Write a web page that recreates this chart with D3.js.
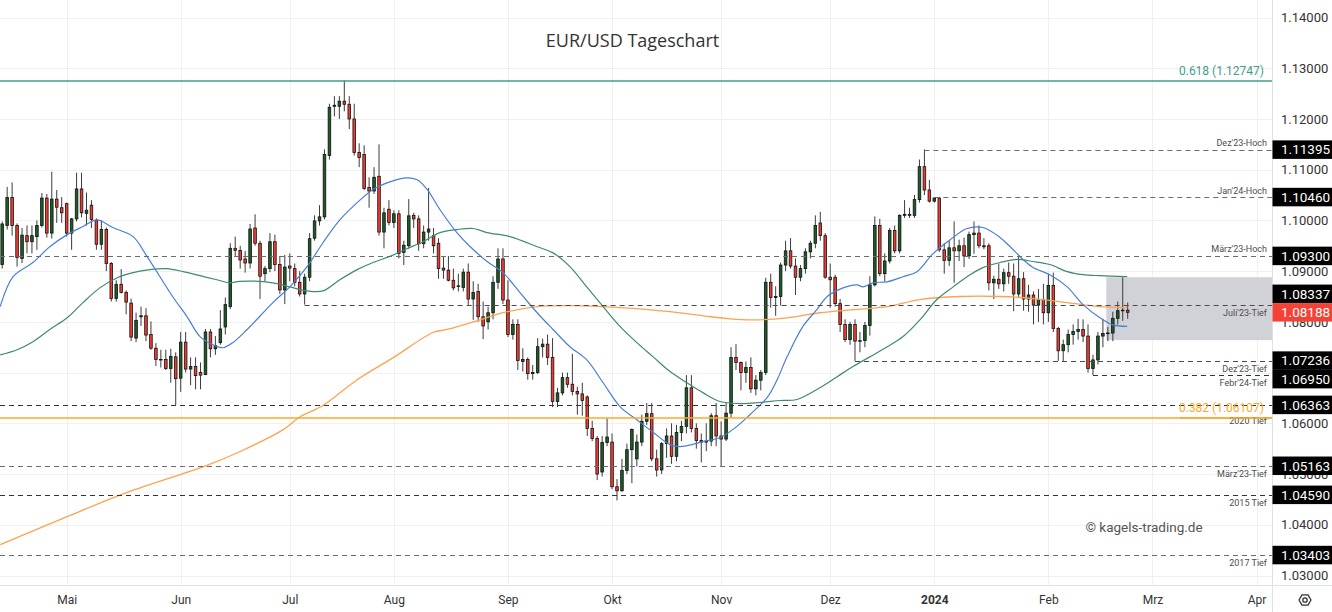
<!DOCTYPE html>
<html><head><meta charset="utf-8">
<script src="https://cdn.jsdelivr.net/npm/d3@7"></script>
<style>
body{margin:0;background:#fff;}
svg{display:block;}
text{font-family:Roboto,"Noto Sans",sans-serif;}
</style>
</head><body>
<svg id="c" width="1332" height="612"></svg>
<script>
// ---------------- DATA ----------------
// trading days (categories), per month
const dayLists = [
 ["2023-04",[12,13,14,17,18,19,20,21,24,25,26,27,28]],
 ["2023-05",[1,2,3,4,5,8,9,10,11,12,15,16,17,18,19,22,23,24,25,26,29,30,31]],
 ["2023-06",[1,2,5,6,7,8,9,12,13,14,15,16,19,20,21,22,23,26,27,28,29,30]],
 ["2023-07",[3,4,5,6,7,10,11,12,13,14,17,18,19,20,21,24,25,26,27,28,31]],
 ["2023-08",[1,2,3,4,7,8,9,10,11,14,15,16,17,18,21,22,23,24,25,28,29,30,31]],
 ["2023-09",[1,4,5,6,7,8,11,12,13,14,15,18,19,20,21,22,25,26,27,28,29]],
 ["2023-10",[2,3,4,5,6,9,10,11,12,13,16,17,18,19,20,23,24,25,26,27,30,31]],
 ["2023-11",[1,2,3,6,7,8,9,10,13,14,15,16,17,20,21,22,23,24,27,28,29,30]],
 ["2023-12",[1,4,5,6,7,8,11,12,13,14,15,18,19,20,21,22,25,26,27,28,29]],
 ["2024-01",[1,2,3,4,5,8,9,10,11,12,15,16,17,18,19,22,23,24,25,26,29,30,31]],
 ["2024-02",[1,2,5,6,7,8,9,12,13,14,15,16,19,20,21,22,23]]
];
const dates = dayLists.flatMap(([m,ds]) => ds.map(d => m + "-" + String(d).padStart(2,"0")));

const open = [
1.0913,1.0990,1.1045,1.0990,1.0925,1.0970,1.0958,1.0968,1.0990,1.1044,
1.0975,1.1042,1.1025,1.1033,1.0975,1.1003,1.1062,1.1014,1.1030,1.1000,
1.0953,1.0982,1.0915,1.0846,1.0874,1.0858,1.0837,1.0768,1.0810,1.0812,
1.0775,1.0748,1.0726,1.0726,1.0708,1.0731,1.0689,1.0760,1.0707,1.0712,
1.0700,1.0696,1.0780,1.0747,1.0759,1.0790,1.0830,1.0945,1.0941,1.0924,
1.0916,1.0985,1.0955,1.0895,1.0905,1.0958,1.0913,1.0863,1.0910,1.0905,
1.0878,1.0855,1.0888,1.0965,1.0999,1.1007,1.1128,1.1225,1.1225,1.1235,
1.1229,1.1200,1.1134,1.1130,1.1065,1.1058,1.1087,1.0977,1.1022,1.0996,
1.1013,1.0937,1.0950,1.1010,1.1003,1.0954,1.0977,1.0970,1.0955,1.0906,
1.0902,1.0882,1.0870,1.0868,1.0898,1.0845,1.0860,1.0810,1.0800,1.0818,
1.0878,1.0924,1.0843,1.0775,1.0795,1.0722,1.0726,1.0698,1.0700,1.0751,
1.0756,1.0730,1.0643,1.0660,1.0690,1.0677,1.0663,1.0658,1.0652,1.0590,
1.0570,1.0504,1.0562,1.0563,1.0475,1.0467,1.0507,1.0548,1.0530,1.0563,
1.0604,1.0619,1.0530,1.0508,1.0560,1.0575,1.0535,1.0582,1.0594,1.0670,
1.0590,1.0566,1.0563,1.0565,1.0615,1.0575,1.0569,1.0620,1.0730,1.0720,
1.0700,1.0710,1.0668,1.0685,1.0700,1.0878,1.0848,1.0850,1.0912,1.0940,
1.0910,1.0888,1.0905,1.0938,1.0955,1.0995,1.0970,1.0888,1.0888,1.0836,
1.0795,1.0765,1.0795,1.0762,1.0763,1.0793,1.0873,1.0990,1.0895,1.0920,
1.0980,1.0940,1.1010,1.1012,1.1010,1.1041,1.1106,1.1060,1.1038,1.1044,
1.0942,1.0921,1.0946,1.0940,1.0950,1.0930,1.0972,1.0975,1.0950,1.0950,
1.0877,1.0884,1.0875,1.0897,1.0890,1.0855,1.0885,1.0845,1.0853,1.0833,
1.0844,1.0818,1.0872,1.0787,1.0743,1.0755,1.0775,1.0781,1.0785,1.0772,
1.0708,1.0725,1.0772,1.0777,1.0778,1.0807,1.0822,1.0823
];
const high = [
1.0998,1.1066,1.1075,1.0994,1.0985,1.0990,1.0990,1.1000,1.1054,1.1052,
1.1096,1.1060,1.1046,1.1035,1.1005,1.1094,1.1094,1.1055,1.1040,1.1004,
1.1000,1.0986,1.0918,1.0882,1.0904,1.0862,1.0846,1.0818,1.0830,1.0827,
1.0801,1.0758,1.0745,1.0745,1.0747,1.0740,1.0780,1.0780,1.0730,1.0730,
1.0720,1.0786,1.0786,1.0772,1.0823,1.0848,1.0955,1.0968,1.0950,1.0940,
1.0993,1.1012,1.0960,1.0910,1.0975,1.0972,1.0930,1.0932,1.0935,1.0915,
1.0900,1.0895,1.0975,1.1010,1.1030,1.1140,1.1230,1.1245,1.1245,1.1276,
1.1245,1.1230,1.1152,1.1148,1.1085,1.1105,1.1150,1.1025,1.1040,1.1020,
1.1020,1.0960,1.1042,1.1015,1.1010,1.0990,1.1064,1.0985,1.0965,1.0930,
1.0930,1.0905,1.0895,1.0905,1.0915,1.0880,1.0875,1.0840,1.0830,1.0890,
1.0945,1.0945,1.0882,1.0805,1.0805,1.0748,1.0730,1.0715,1.0768,1.0767,
1.0775,1.0768,1.0670,1.0700,1.0700,1.0737,1.0672,1.0680,1.0655,1.0605,
1.0575,1.0575,1.0610,1.0580,1.0490,1.0530,1.0560,1.0590,1.0578,1.0617,
1.0640,1.0640,1.0548,1.0563,1.0590,1.0600,1.0597,1.0605,1.0695,1.0695,
1.0600,1.0580,1.0600,1.0620,1.0640,1.0604,1.0640,1.0750,1.0756,1.0722,
1.0722,1.0730,1.0695,1.0705,1.0887,1.0895,1.0870,1.0917,1.0960,1.0965,
1.0925,1.0912,1.0945,1.0960,1.1010,1.1017,1.0975,1.0915,1.0893,1.0845,
1.0805,1.0800,1.0805,1.0780,1.0800,1.0890,1.1008,1.1003,1.0935,1.0985,
1.0990,1.1012,1.1040,1.1025,1.1050,1.1120,1.1140,1.1080,1.1046,1.1046,
1.0955,1.0960,1.0998,1.0962,1.0966,1.0978,1.0998,1.0990,1.0965,1.0955,
1.0891,1.0915,1.0905,1.0917,1.0915,1.0932,1.0898,1.0873,1.0860,1.0865,
1.0875,1.0895,1.0897,1.0790,1.0765,1.0785,1.0795,1.0806,1.0805,1.0795,
1.0735,1.0780,1.0806,1.0790,1.0820,1.0840,1.0888,1.0838
];
const low = [
1.0905,1.0982,1.0970,1.0909,1.0916,1.0935,1.0935,1.0942,1.0986,1.0966,
1.0964,1.0995,1.0995,1.0968,1.0942,1.0998,1.1006,1.0990,1.0985,1.0942,
1.0942,1.0900,1.0840,1.0840,1.0856,1.0815,1.0762,1.0760,1.0792,1.0762,
1.0745,1.0713,1.0710,1.0705,1.0680,1.0636,1.0662,1.0700,1.0675,1.0667,
1.0667,1.0695,1.0730,1.0735,1.0755,1.0775,1.0825,1.0928,1.0905,1.0897,
1.0905,1.0950,1.0845,1.0880,1.0898,1.0900,1.0855,1.0835,1.0880,1.0870,
1.0850,1.0834,1.0880,1.0960,1.0990,1.1002,1.1120,1.1205,1.1200,1.1215,
1.1180,1.1128,1.1105,1.1060,1.1025,1.1052,1.0970,1.0945,1.0990,1.0985,
1.0925,1.0912,1.0944,1.0985,1.0940,1.0945,1.0960,1.0935,1.0885,1.0885,
1.0880,1.0862,1.0860,1.0860,1.0833,1.0804,1.0800,1.0766,1.0785,1.0805,
1.0865,1.0835,1.0770,1.0765,1.0705,1.0702,1.0686,1.0686,1.0697,1.0730,
1.0715,1.0632,1.0632,1.0655,1.0670,1.0655,1.0617,1.0615,1.0575,1.0565,
1.0488,1.0495,1.0555,1.0470,1.0448,1.0465,1.0500,1.0482,1.0515,1.0555,
1.0597,1.0525,1.0495,1.0500,1.0532,1.0520,1.0525,1.0565,1.0580,1.0582,
1.0550,1.0523,1.0545,1.0555,1.0555,1.0516,1.0565,1.0612,1.0705,1.0665,
1.0680,1.0660,1.0655,1.0665,1.0695,1.0828,1.0812,1.0832,1.0900,1.0905,
1.0853,1.0880,1.0895,1.0925,1.0945,1.0960,1.0885,1.0828,1.0830,1.0780,
1.0760,1.0755,1.0723,1.0740,1.0750,1.0773,1.0870,1.0890,1.0880,1.0915,
1.0935,1.0935,1.1005,1.1005,1.1005,1.1035,1.1050,1.1035,1.1035,1.0938,
1.0895,1.0910,1.0877,1.0920,1.0908,1.0924,1.0934,1.0945,1.0943,1.0862,
1.0845,1.0865,1.0860,1.0875,1.0821,1.0848,1.0822,1.0820,1.0795,1.0800,
1.0795,1.0800,1.0780,1.0723,1.0723,1.0740,1.0755,1.0765,1.0760,1.0700,
1.0695,1.0716,1.0750,1.0762,1.0762,1.0795,1.0802,1.0806
];
const close = [
1.0993,1.1045,1.0990,1.0927,1.0971,1.0958,1.0970,1.0990,1.1044,1.0975,
1.1042,1.1026,1.1015,1.0975,1.1003,1.1062,1.1015,1.1020,1.1002,1.0953,
1.0982,1.0915,1.0846,1.0874,1.0858,1.0839,1.0770,1.0803,1.0812,1.0774,
1.0748,1.0726,1.0725,1.0708,1.0732,1.0688,1.0760,1.0707,1.0712,1.0694,
1.0695,1.0780,1.0747,1.0753,1.0786,1.0834,1.0945,1.0941,1.0922,1.0916,
1.0983,1.0955,1.0890,1.0905,1.0958,1.0913,1.0863,1.0908,1.0906,1.0878,
1.0855,1.0888,1.0964,1.0999,1.1007,1.1130,1.1223,1.1227,1.1235,1.1229,
1.1200,1.1134,1.1124,1.1063,1.1058,1.1085,1.0977,1.1015,1.0996,1.1013,
1.0935,1.0951,1.1009,1.1003,1.0954,1.0977,1.0983,1.0950,1.0905,1.0902,
1.0882,1.0867,1.0871,1.0898,1.0845,1.0858,1.0810,1.0792,1.0818,1.0878,
1.0924,1.0843,1.0775,1.0795,1.0724,1.0726,1.0698,1.0700,1.0751,1.0756,
1.0730,1.0643,1.0660,1.0690,1.0677,1.0663,1.0658,1.0645,1.0590,1.0570,
1.0500,1.0562,1.0573,1.0475,1.0467,1.0507,1.0548,1.0588,1.0563,1.0604,
1.0619,1.0530,1.0508,1.0560,1.0575,1.0535,1.0582,1.0594,1.0670,1.0590,
1.0566,1.0563,1.0565,1.0615,1.0575,1.0569,1.0620,1.0730,1.0720,1.0700,
1.0710,1.0668,1.0685,1.0700,1.0878,1.0848,1.0850,1.0912,1.0940,1.0910,
1.0888,1.0905,1.0938,1.0955,1.0990,1.0970,1.0888,1.0883,1.0836,1.0795,
1.0765,1.0795,1.0762,1.0763,1.0793,1.0873,1.0990,1.0895,1.0920,1.0980,
1.0940,1.1010,1.1012,1.1010,1.1041,1.1106,1.1060,1.1038,1.1044,1.0942,
1.0921,1.0946,1.0940,1.0950,1.0930,1.0972,1.0975,1.0950,1.0948,1.0877,
1.0884,1.0875,1.0897,1.0890,1.0855,1.0885,1.0845,1.0853,1.0833,1.0844,
1.0818,1.0872,1.0787,1.0743,1.0755,1.0775,1.0781,1.0785,1.0772,1.0708,
1.0725,1.0772,1.0777,1.0778,1.0807,1.0822,1.0823,1.08188
];

// moving averages: [bar, price]
const ma20 = [[-0.4,1.0830],[2.2,1.0889],[6.2,1.0917],[9.6,1.0948],[13.1,1.0972],[16.3,1.0988],[19.1,1.1001],[22.3,1.0986],[26.4,1.0968],[29.2,1.0929],[34.5,1.0848],[37.3,1.0810],[39.9,1.0771],[42.5,1.0755],[44.5,1.0749],[46.5,1.0759],[49.4,1.0785],[54.6,1.0838],[58.0,1.0869],[61.5,1.0909],[64.7,1.0956],[68.1,1.1001],[71.6,1.1035],[74.8,1.1061],[78.2,1.1076],[81.6,1.1084],[83.7,1.1080],[85.7,1.1061],[88.3,1.1021],[91.7,1.0976],[94.4,1.0948],[97.8,1.0919],[101.0,1.0897],[104.4,1.0858],[107.9,1.0818],[111.1,1.0785],[114.5,1.0751],[117.9,1.0725],[121.2,1.0680],[124.6,1.0633],[128.0,1.0607],[131.3,1.0582],[134.7,1.0558],[136.7,1.0554],[141.4,1.0564],[144.8,1.0572],[147.8,1.0591],[150.8,1.0617],[154.3,1.0651],[156.3,1.0686],[158.3,1.0731],[161.5,1.0791],[164.3,1.0824],[166.4,1.0850],[169.6,1.0867],[172.4,1.0873],[173.6,1.0869],[175.6,1.0877],[178.5,1.0879],[181.7,1.0889],[184.5,1.0899],[187.7,1.0934],[191.2,1.0962],[194.6,1.0984],[197.8,1.0986],[201.3,1.0966],[203.3,1.0948],[205.9,1.0923],[207.9,1.0907],[211.3,1.0893],[214.8,1.0869],[218.0,1.0834],[221.4,1.0808],[224.0,1.0794],[226.9,1.0791]];
const ma50 = [[-0.4,1.0735],[3.0,1.0745],[6.2,1.0761],[9.6,1.0785],[13.1,1.0808],[16.3,1.0838],[19.7,1.0867],[23.2,1.0887],[26.4,1.0897],[29.8,1.0903],[33.2,1.0905],[36.5,1.0899],[39.9,1.0891],[43.3,1.0883],[45.9,1.0877],[47.9,1.0880],[54.6,1.0877],[58.0,1.0869],[61.5,1.0861],[64.7,1.0861],[68.1,1.0883],[71.6,1.0903],[74.8,1.0917],[78.2,1.0929],[81.6,1.0944],[84.9,1.0958],[88.3,1.0976],[91.7,1.0982],[95.0,1.0984],[97.8,1.0976],[102.4,1.0968],[107.9,1.0948],[111.1,1.0936],[114.5,1.0909],[117.9,1.0869],[121.2,1.0830],[124.6,1.0791],[128.0,1.0759],[131.3,1.0731],[134.7,1.0702],[138.1,1.0680],[141.4,1.0660],[144.8,1.0643],[148.8,1.0639],[152.8,1.0641],[156.9,1.0645],[160.3,1.0647],[164.9,1.0670],[168.4,1.0692],[171.6,1.0712],[175.0,1.0731],[178.5,1.0751],[181.7,1.0771],[185.1,1.0804],[188.5,1.0844],[191.8,1.0869],[194.6,1.0889],[197.8,1.0907],[201.3,1.0917],[204.7,1.0923],[207.9,1.0919],[211.3,1.0913],[214.8,1.0899],[218.0,1.0893],[221.4,1.0891],[226.9,1.0889]];
const ma200 = [[-0.4,1.0361],[13.1,1.0416],[24.4,1.0461],[35.9,1.0499],[41.3,1.0517],[47.9,1.0544],[56.6,1.0587],[60.1,1.0613],[64.7,1.0635],[71.6,1.0686],[78.8,1.0729],[86.9,1.0779],[89.7,1.0785],[96.4,1.0804],[101.0,1.0818],[107.9,1.0830],[114.5,1.0832],[121.2,1.0830],[128.0,1.0826],[134.7,1.0820],[141.4,1.0812],[146.8,1.0806],[151.4,1.0804],[158.3,1.0808],[164.9,1.0818],[171.6,1.0824],[178.5,1.0830],[185.1,1.0844],[193.2,1.0850],[201.3,1.0850],[207.9,1.0846],[214.8,1.0838],[221.4,1.0830],[226.9,1.0828]];

// horizontal levels
const levelPrices = [1.11395,1.10460,1.09300,1.08337,1.07236,1.06950,1.06363,1.05163,1.04590,1.03403];
const levelNames  = ["Dez'23-Hoch","Jan'24-Hoch","März'23-Hoch","Juli'23-Tief","Dez'23-Tief","Febr'24-Tief","2020 Tief","März'23-Tief","2015 Tief","2017 Tief"];
const levelFromBar = [186,188,null,61,172,220,null,null,null,null];
// Fibonacci
const fibRatios = ["0.618","0.382"];
const fibPrices = [1.12747,1.06107];
// rectangle (zone)
const zoneFromBar = 223, zoneTop = 1.0888, zoneBottom = 1.0764;
// axis ticks
const yTickValues = [1.03,1.04,1.05,1.06,1.07,1.08,1.09,1.10,1.11,1.12,1.13,1.14];
const monthTicks = ["Mai","Jun","Jul","Aug","Sep","Okt","Nov","Dez","2024","Feb","Mrz","Apr"];
const monthTickBars = [13,36,58,79,102,123,145,167,188,211,232,253];
const title = "EUR/USD Tageschart";
const watermark = "\u00A9 kagels-trading.de";

// ---------------- DRAW ----------------
const W = 1332, H = 612, plotW = 1272, plotH = 585;
const x = d3.scaleLinear().domain([0,253]).range([2.2,1256.6]);
const y = d3.scaleLinear().domain([1.03,1.14]).range([575.5,17.5]);
const svg = d3.select("#c");
svg.append("rect").attr("width",W).attr("height",H).attr("fill","#fff");
svg.append("defs").append("clipPath").attr("id","plot")
  .append("rect").attr("width",plotW).attr("height",plotH);
const g = svg.append("g").attr("clip-path","url(#plot)");
const crisp = v => Math.round(v)+0.5;

// grid
g.append("g").selectAll("line").data(yTickValues).join("line")
  .attr("x1",0).attr("x2",plotW).attr("y1",d=>crisp(y(d))).attr("y2",d=>crisp(y(d)))
  .attr("stroke","#eff0f3");
g.append("g").selectAll("line").data(monthTickBars).join("line")
  .attr("y1",0).attr("y2",plotH).attr("x1",d=>crisp(x(d))).attr("x2",d=>crisp(x(d)))
  .attr("stroke","#eff0f3");

// zone rectangle
g.append("rect").attr("x",x(zoneFromBar)-1.5).attr("y",y(zoneTop))
  .attr("width",plotW-(x(zoneFromBar)-1.5)).attr("height",y(zoneBottom)-y(zoneTop))
  .attr("fill","#d1d2d7");

// candles
const bars = d3.range(close.length).map(i=>({i,o:open[i],h:high[i],l:low[i],c:close[i],date:dates[i]}));
g.append("g").selectAll("line").data(bars).join("line")
  .attr("x1",d=>x(d.i)).attr("x2",d=>x(d.i)).attr("y1",d=>y(d.h)).attr("y2",d=>y(d.l))
  .attr("stroke","#3c3c3c").attr("stroke-width",1);
const bw = 2.6;
g.append("g").selectAll("rect").data(bars).join("rect")
  .attr("x",d=>x(d.i)-bw/2).attr("width",bw)
  .attr("y",d=>y(Math.max(d.o,d.c)))
  .attr("height",d=>Math.max(0.6,Math.abs(y(d.o)-y(d.c))))
  .attr("fill",d=>d.c>=d.o?"#1e5c27":"#f23b30")
  .attr("stroke","#111").attr("stroke-width",0.8);

// moving averages
const lineGen = d3.line().x(d=>x(d[0])).y(d=>y(d[1])).curve(d3.curveCatmullRom.alpha(0.5));
g.append("path").attr("d",lineGen(ma200)).attr("fill","none").attr("stroke","#ffa24f").attr("stroke-width",1.3);
g.append("path").attr("d",lineGen(ma50)).attr("fill","none").attr("stroke","#3f8a72").attr("stroke-width",1.2);
g.append("path").attr("d",lineGen(ma20)).attr("fill","none").attr("stroke","#4a7fd4").attr("stroke-width",1.2);

// level lines
const levelColor = ["#6b6b6b","#6b6b6b","#6b6b6b","#4a4a4a","#4a4a4a","#333","#333","#6b6b6b","#333","#6b6b6b"];
const levelSide = ["above","above","above","below","below","below","below2","below","below","below"];
levelPrices.forEach((p,k)=>{
  const yy = crisp(y(p));
  const x0 = levelFromBar[k]===null ? 0 : x(levelFromBar[k]);
  g.append("line").attr("x1",x0).attr("x2",plotW).attr("y1",yy).attr("y2",yy)
    .attr("stroke",levelColor[k]).attr("stroke-width",1).attr("stroke-dasharray","5,4");
});
// fib lines
const fibColor = ["#3f9c8d","#ffa726"];
fibPrices.forEach((p,k)=>{
  const yy = y(p);
  g.append("line").attr("x1",0).attr("x2",plotW).attr("y1",yy).attr("y2",yy)
    .attr("stroke",fibColor[k]).attr("stroke-width",1.5);
});
// level texts
levelPrices.forEach((p,k)=>{
  const yy = y(p);
  const base = levelSide[k]==="above" ? yy-3.5 : levelSide[k]==="below" ? yy+11 : yy+19;
  g.append("text").attr("x",1267).attr("y",base).attr("text-anchor","end")
    .attr("font-size",9).attr("fill","#4d4d4d").text(levelNames[k]);
});
fibPrices.forEach((p,k)=>{
  g.append("text").attr("x",1264).attr("y",y(p)-(k===0?6.5:5.5)).attr("text-anchor","end")
    .attr("font-size",12).attr("fill",fibColor[k])
    .text(fibRatios[k]+" ("+d3.format(".5f")(p)+")");
});
// orange fib line passes over the "2020 Tief" text (as in reference)
g.append("line").attr("x1",1180).attr("x2",plotW).attr("y1",y(fibPrices[1])).attr("y2",y(fibPrices[1]))
  .attr("stroke",fibColor[1]).attr("stroke-width",1.5);

// title & watermark
svg.append("text").attr("x",632.5).attr("y",46.5).attr("text-anchor","middle")
  .style("font-family","'Open Sans',Roboto,sans-serif").attr("font-size",18).attr("fill","#333").text(title);
svg.append("text").attr("x",1144).attr("y",531.5).attr("text-anchor","middle")
  .attr("font-size",13.5).attr("fill","#555").text(watermark);

// separators
svg.append("line").attr("x1",crisp(plotW)).attr("x2",crisp(plotW)).attr("y1",0).attr("y2",H).attr("stroke","#dfe1e6");
svg.append("line").attr("x1",0).attr("x2",W).attr("y1",crisp(plotH)).attr("y2",crisp(plotH)).attr("stroke","#dfe1e6");

// price boxes layout (computed first so fully hidden tick labels can be skipped)
const boxH = 18.5;
const last = close[close.length-1];
const lastUp = close[close.length-1] >= open[open.length-1];
const yLast = y(last);
const boxes = levelPrices.map(p=>({p,cy:y(p)})).sort((a,b)=>a.cy-b.cy);
let prev = null;
boxes.forEach(b=>{
  if (Math.abs(b.cy-yLast) < boxH) b.cy = b.cy < yLast ? yLast-boxH : yLast+boxH;
  if (prev!==null && b.cy-prev < boxH) b.cy = prev+boxH;
  prev = b.cy;
});
const allBoxCenters = boxes.map(b=>b.cy).concat([yLast]);
const covered = v => allBoxCenters.some(c => v >= c-boxH/2 && v <= c+boxH/2);
const visibleTicks = yTickValues.filter(t => !(covered(y(t)-5) && covered(y(t)+5)));

// right axis
const ya = svg.append("g").attr("transform",`translate(${plotW},0)`)
  .call(d3.axisRight(y).tickValues(visibleTicks).tickFormat(d3.format(".5f")).tickSize(0).tickPadding(9));
ya.select(".domain").remove();
ya.selectAll("text").attr("font-size",13).attr("fill","#333");

const drawBox = (p,cy,fill)=>{
  svg.append("rect").attr("x",plotW+0.5).attr("y",cy-boxH/2).attr("width",W-plotW).attr("height",boxH).attr("fill",fill);
  svg.append("text").attr("x",plotW+9).attr("y",cy).attr("dy","0.35em")
    .attr("font-size",13.5).attr("fill","#fff").text(d3.format(".5f")(p));
};
boxes.forEach(b=>drawBox(b.p,b.cy,"#000"));
drawBox(last,yLast,lastUp?"#1e5c27":"#f44336");

// bottom axis
const xa = svg.append("g").attr("transform",`translate(0,${plotH})`)
  .call(d3.axisBottom(x).tickValues(monthTickBars).tickFormat((d,i)=>monthTicks[i]).tickSize(0).tickPadding(10));
xa.select(".domain").remove();
xa.selectAll("text").attr("font-size",12).attr("fill","#333")
  .attr("font-weight",(d,i)=>monthTicks[i]==="2024"?"bold":"normal");

// settings icon
const ic = svg.append("g").attr("transform","translate(1305,600)");
ic.append("path").attr("d",d3.line()(d3.range(6).map(k=>[6*Math.cos(Math.PI/3*k),6*Math.sin(Math.PI/3*k)]))+"Z")
  .attr("fill","none").attr("stroke","#333").attr("stroke-width",1.3).attr("stroke-linejoin","round");
ic.append("circle").attr("r",2.2).attr("fill","none").attr("stroke","#333").attr("stroke-width",1.3);
</script>
</body></html>
